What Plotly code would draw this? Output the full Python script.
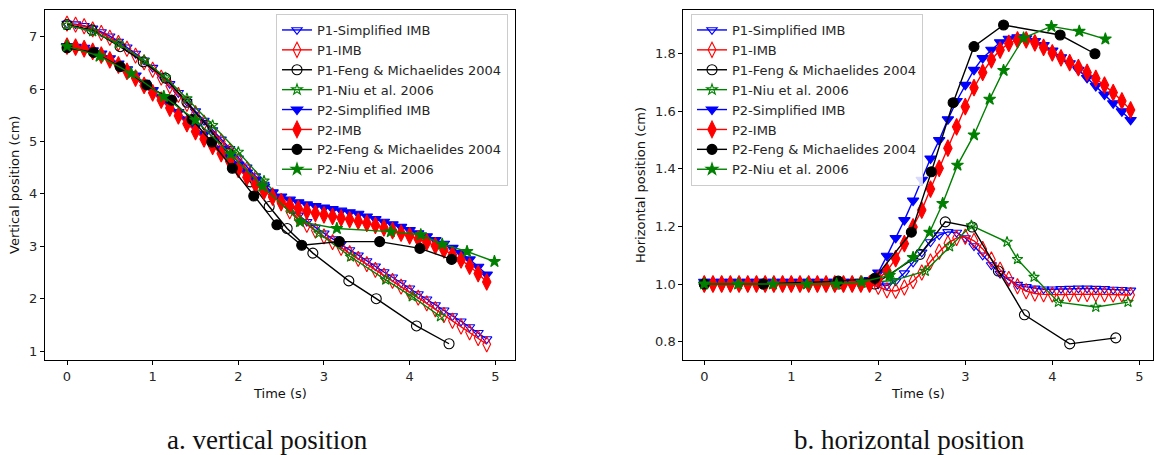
import plotly.graph_objects as go

W, H = 1154, 455

# ---------------- data ----------------
t_imb = [0.0, 0.1, 0.2, 0.3, 0.4, 0.5, 0.6, 0.7, 0.8, 0.9,
         1.0, 1.1, 1.2, 1.3, 1.4, 1.5, 1.6, 1.7, 1.8, 1.9,
         2.0, 2.1, 2.2, 2.3, 2.4, 2.5, 2.6, 2.7, 2.8, 2.9,
         3.0, 3.1, 3.2, 3.3, 3.4, 3.5, 3.6, 3.7, 3.8, 3.9,
         4.0, 4.1, 4.2, 4.3, 4.4, 4.5, 4.6, 4.7, 4.8, 4.9]

# vertical position (cm)
v_p1_simp = [7.25, 7.24, 7.21, 7.16, 7.09, 7.01, 6.91, 6.80, 6.68, 6.55,
             6.41, 6.26, 6.10, 5.93, 5.76, 5.58, 5.40, 5.22, 5.04, 4.86,
             4.68, 4.51, 4.34, 4.18, 4.02, 3.87, 3.72, 3.59, 3.47, 3.36,
             3.25, 3.14, 3.04, 2.93, 2.83, 2.72, 2.62, 2.51, 2.41, 2.30,
             2.20, 2.09, 1.99, 1.88, 1.78, 1.67, 1.57, 1.46, 1.35, 1.23]
v_p1_imb = [7.25, 7.23, 7.20, 7.14, 7.07, 6.98, 6.88, 6.77, 6.64, 6.51,
            6.37, 6.22, 6.06, 5.89, 5.72, 5.54, 5.36, 5.18, 5.00, 4.82,
            4.64, 4.47, 4.30, 4.13, 3.97, 3.82, 3.67, 3.53, 3.41, 3.30,
            3.19, 3.08, 2.97, 2.87, 2.76, 2.66, 2.55, 2.44, 2.34, 2.23,
            2.12, 2.02, 1.91, 1.80, 1.69, 1.58, 1.47, 1.36, 1.25, 1.13]
v_p2_simp = [6.82, 6.81, 6.79, 6.74, 6.68, 6.59, 6.49, 6.38, 6.26, 6.12,
             5.98, 5.84, 5.70, 5.56, 5.42, 5.28, 5.14, 5.00, 4.86, 4.71,
             4.56, 4.41, 4.27, 4.14, 4.03, 3.95, 3.89, 3.84, 3.80, 3.77,
             3.74, 3.71, 3.68, 3.65, 3.62, 3.57, 3.52, 3.47, 3.42, 3.37,
             3.31, 3.25, 3.19, 3.12, 3.05, 2.97, 2.87, 2.75, 2.61, 2.46]
v_p2_imb = [6.82, 6.80, 6.77, 6.72, 6.65, 6.56, 6.46, 6.34, 6.21, 6.07,
            5.93, 5.79, 5.64, 5.49, 5.34, 5.19, 5.05, 4.91, 4.77, 4.62,
            4.47, 4.32, 4.18, 4.05, 3.94, 3.85, 3.78, 3.72, 3.67, 3.63,
            3.60, 3.57, 3.54, 3.51, 3.48, 3.44, 3.40, 3.35, 3.30, 3.25,
            3.20, 3.14, 3.08, 3.01, 2.93, 2.84, 2.74, 2.62, 2.48, 2.32]

v_feng_p1_t = [0.0, 0.29, 0.62, 0.89, 1.15, 1.40, 1.63, 1.88, 2.14, 2.36, 2.57, 2.87, 3.29, 3.61, 4.08, 4.46]
v_feng_p1 = [7.23, 7.13, 6.81, 6.52, 6.21, 5.75, 5.31, 4.78, 4.23, 3.76, 3.34, 2.87, 2.34, 2.00, 1.48, 1.14]
v_feng_p2_t = [0.0, 0.31, 0.62, 0.93, 1.22, 1.46, 1.69, 1.93, 2.18, 2.45, 2.74, 3.18, 3.65, 4.12, 4.49]
v_feng_p2 = [6.79, 6.70, 6.43, 6.08, 5.79, 5.42, 4.99, 4.49, 3.96, 3.41, 3.02, 3.09, 3.09, 2.96, 2.75]
v_niu_p1_t = [0.0, 0.3, 0.6, 0.9, 1.15, 1.4, 1.7, 2.0, 2.3, 2.6, 2.94, 3.31, 3.72, 4.03, 4.36]
v_niu_p1 = [7.22, 7.10, 6.87, 6.55, 6.22, 5.82, 5.31, 4.80, 4.25, 3.72, 3.25, 2.80, 2.36, 2.04, 1.66]
v_niu_p2_t = [0.0, 0.38, 0.75, 1.13, 1.50, 1.91, 2.28, 2.72, 3.15, 3.78, 4.13, 4.38, 4.67, 4.99]
v_niu_p2 = [6.82, 6.63, 6.30, 5.86, 5.41, 4.76, 4.15, 3.47, 3.34, 3.28, 3.22, 3.04, 2.90, 2.71]

# horizontal position (cm)
h_p1_simp = [1.005, 1.005, 1.005, 1.005, 1.005, 1.005, 1.005, 1.005, 1.005, 1.005,
             1.005, 1.005, 1.005, 1.005, 1.005, 1.005, 1.005, 1.005, 1.005, 1.005,
             1.000, 0.995, 1.010, 1.038, 1.075, 1.110, 1.146, 1.170, 1.181, 1.179,
             1.160, 1.132, 1.100, 1.066, 1.036, 1.014, 0.998, 0.990, 0.985, 0.982,
             0.982, 0.983, 0.984, 0.985, 0.985, 0.984, 0.983, 0.981, 0.980, 0.978]
h_p1_imb = [1.0, 1.0, 1.0, 1.0, 1.0, 1.0, 1.0, 1.0, 1.0, 1.0,
            1.0, 1.0, 1.0, 1.0, 1.0, 1.0, 1.0, 1.0, 1.0, 1.0,
            0.990, 0.978, 0.976, 0.988, 1.010, 1.040, 1.078, 1.112, 1.142, 1.160,
            1.164, 1.150, 1.122, 1.085, 1.050, 1.018, 0.992, 0.975, 0.967, 0.964,
            0.963, 0.963, 0.964, 0.965, 0.965, 0.965, 0.964, 0.963, 0.963, 0.962]
h_p2_simp = [1.008, 1.008, 1.008, 1.008, 1.008, 1.008, 1.008, 1.008, 1.008, 1.008,
             1.008, 1.008, 1.008, 1.008, 1.008, 1.008, 1.008, 1.008, 1.008, 1.014,
             1.040, 1.098, 1.160, 1.222, 1.290, 1.362, 1.436, 1.500, 1.572, 1.636,
             1.692, 1.744, 1.785, 1.814, 1.840, 1.852, 1.857, 1.854, 1.844, 1.830,
             1.811, 1.788, 1.767, 1.744, 1.716, 1.688, 1.658, 1.628, 1.600, 1.570]
h_p2_imb = [1.0, 1.0, 1.0, 1.0, 1.0, 1.0, 1.0, 1.0, 1.0, 1.0,
            1.0, 1.0, 1.0, 1.0, 1.0, 1.0, 1.0, 1.0, 1.0, 1.0,
            1.018, 1.045, 1.088, 1.140, 1.198, 1.257, 1.330, 1.402, 1.472, 1.546,
            1.616, 1.682, 1.735, 1.779, 1.813, 1.836, 1.848, 1.848, 1.838, 1.822,
            1.803, 1.786, 1.769, 1.752, 1.735, 1.714, 1.691, 1.665, 1.636, 1.605]

h_feng_p1_t = [0.0, 0.68, 1.54, 1.96, 2.48, 2.77, 3.08, 3.38, 3.68, 4.20, 4.73]
h_feng_p1 = [1.0, 1.0, 1.0, 1.0, 1.103, 1.216, 1.198, 1.045, 0.893, 0.792, 0.813]
h_feng_p2_t = [0.0, 0.68, 1.54, 1.96, 2.38, 2.61, 2.86, 3.10, 3.44, 4.09, 4.49]
h_feng_p2 = [1.0, 1.0, 1.01, 1.02, 1.18, 1.39, 1.63, 1.825, 1.90, 1.865, 1.80]
h_niu_p1_t = [0.0, 0.39, 0.79, 1.18, 1.52, 1.81, 2.17, 2.54, 2.82, 3.07, 3.48, 3.60, 3.79, 4.07, 4.50, 4.87]
h_niu_p1 = [1.0, 1.0, 1.0, 1.0, 1.0, 1.003, 1.012, 1.045, 1.13, 1.203, 1.146, 1.086, 1.024, 0.937, 0.92, 0.937]
h_niu_p2_t = [0.0, 0.39, 0.79, 1.18, 1.52, 1.81, 2.13, 2.40, 2.59, 2.74, 2.91, 3.10, 3.28, 3.44, 3.67, 3.99, 4.31, 4.61]
h_niu_p2 = [1.0, 1.0, 1.0, 1.0, 1.0, 1.007, 1.03, 1.092, 1.18, 1.28, 1.413, 1.518, 1.642, 1.742, 1.855, 1.895, 1.878, 1.851]

names = ["P1-Simplified IMB", "P1-IMB", "P1-Feng & Michaelides 2004", "P1-Niu et al. 2006",
         "P2-Simplified IMB", "P2-IMB", "P2-Feng & Michaelides 2004", "P2-Niu et al. 2006"]

x_ticks = [0, 1, 2, 3, 4, 5]
v_ticks = [1, 2, 3, 4, 5, 6, 7]
h_ticks = [0.8, 1.0, 1.2, 1.4, 1.6, 1.8]

# ---------------- styles ----------------
BLUE, RED, BLACK, GREEN = "#0000ff", "#ff0000", "#000000", "#008000"
styles = [
    dict(color=BLUE, symbol="triangle-down-open", size=9),
    dict(color=RED, symbol="diamond-tall-open", size=11),
    dict(color=BLACK, symbol="circle-open", size=10),
    dict(color=GREEN, symbol="star-open", size=8),
    dict(color=BLUE, symbol="triangle-down", size=10),
    dict(color=RED, symbol="diamond-tall", size=12),
    dict(color=BLACK, symbol="circle", size=10),
    dict(color=GREEN, symbol="star", size=9),
]

left_series = [(t_imb, v_p1_simp), (t_imb, v_p1_imb), (v_feng_p1_t, v_feng_p1), (v_niu_p1_t, v_niu_p1),
               (t_imb, v_p2_simp), (t_imb, v_p2_imb), (v_feng_p2_t, v_feng_p2), (v_niu_p2_t, v_niu_p2)]
right_series = [(t_imb, h_p1_simp), (t_imb, h_p1_imb), (h_feng_p1_t, h_feng_p1), (h_niu_p1_t, h_niu_p1),
                (t_imb, h_p2_simp), (t_imb, h_p2_imb), (h_feng_p2_t, h_feng_p2), (h_niu_p2_t, h_niu_p2)]

fig = go.Figure()


def add(series, xa, ya, leg):
    for (x, y), nm, st in zip(series, names, styles):
        fig.add_trace(go.Scatter(
            x=x, y=y, name=nm, mode="lines+markers", xaxis=xa, yaxis=ya, legend=leg,
            line=dict(color=st["color"], width=1.4),
            marker=dict(symbol=st["symbol"], size=st["size"], color=st["color"],
                        line=dict(color=st["color"], width=1.1)),
        ))


add(left_series, "x", "y", "legend")
add(right_series, "x2", "y2", "legend2")

FONT = "DejaVu Sans"
TXT = "#262626"
ydom = [1 - 360 / H, 1 - 10 / H]
axis_common = dict(showline=True, mirror=True, linecolor="#000000", linewidth=1,
                   ticks="outside", ticklen=4, tickwidth=1, tickcolor="#000000",
                   showgrid=False, zeroline=False,
                   tickfont=dict(family=FONT, size=13, color=TXT))

legend_common = dict(font=dict(family=FONT, size=13, color=TXT), bgcolor="rgba(255,255,255,0.85)",
                     bordercolor="#cccccc", borderwidth=1, xanchor="right", yanchor="top",
                     tracegroupgap=0, itemwidth=30)

fig.update_layout(
    width=W, height=H, margin=dict(l=0, r=0, t=0, b=0),
    paper_bgcolor="white", plot_bgcolor="white", showlegend=True,
    xaxis=dict(domain=[45 / W, 515 / W], range=[-0.257, 5.23], tickvals=x_ticks, anchor="y", **axis_common),
    yaxis=dict(domain=ydom, range=[0.83, 7.51], tickvals=v_ticks, anchor="x", **axis_common),
    xaxis2=dict(domain=[683.3 / W, 1152.7 / W], range=[-0.241, 5.154], tickvals=x_ticks, anchor="y2", **axis_common),
    yaxis2=dict(domain=ydom, range=[0.736, 1.952], tickvals=h_ticks, tickformat=".1f", anchor="x2", **axis_common),
    legend=dict(x=508 / W, y=1 - 14 / H, **legend_common),
    legend2=dict(x=923 / W, y=1 - 14 / H, **legend_common),
)

ann = [
    dict(text="Vertical position (cm)", x=14 / W, y=1 - 185 / H, textangle=-90, size=13, fam=FONT),
    dict(text="Horizontal position (cm)", x=640 / W, y=1 - 185 / H, textangle=-90, size=13, fam=FONT),
    dict(text="Time (s)", x=280 / W, y=1 - 393 / H, textangle=0, size=13, fam=FONT),
    dict(text="Time (s)", x=918 / W, y=1 - 393 / H, textangle=0, size=13, fam=FONT),
    dict(text="a. vertical position", x=267 / W, y=1 - 440 / H, textangle=0, size=27, fam="Liberation Serif"),
    dict(text="b. horizontal position", x=909 / W, y=1 - 440 / H, textangle=0, size=27, fam="Liberation Serif"),
]
for a in ann:
    fig.add_annotation(text=a["text"], x=a["x"], y=a["y"], xref="paper", yref="paper",
                       xanchor="center", yanchor="middle", showarrow=False, textangle=a["textangle"],
                       font=dict(family=a["fam"], size=a["size"], color="#111111"))

fig.write_html("out.html")
